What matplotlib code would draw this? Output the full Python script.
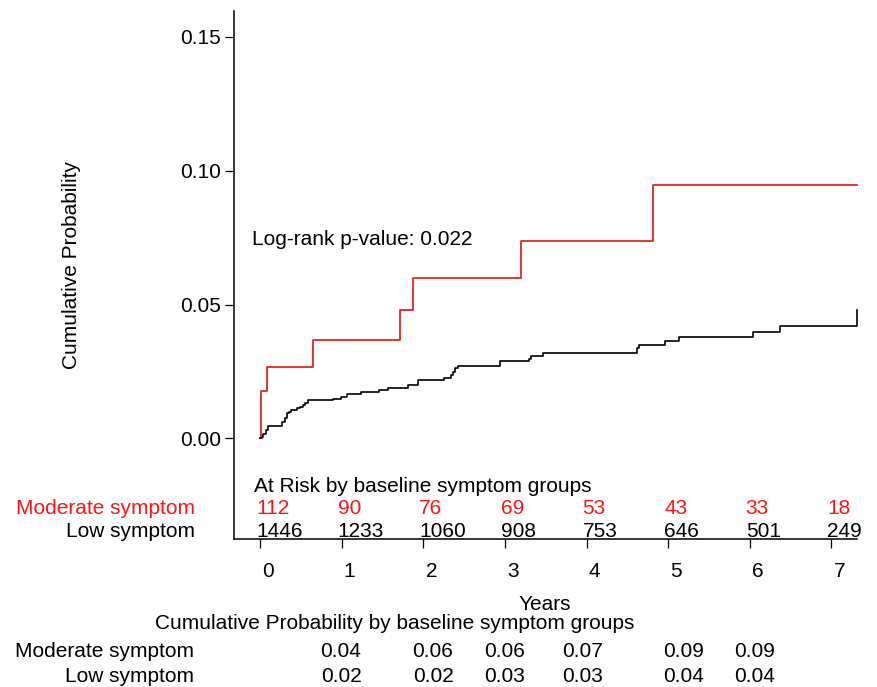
import numpy as np
import matplotlib
matplotlib.use("Agg")
import matplotlib.pyplot as plt
from matplotlib.transforms import ScaledTranslation

plt.rcParams['font.family'] = ['Liberation Sans', 'DejaVu Sans']

# ---------------- data ----------------
years = [0, 1, 2, 3, 4, 5, 6, 7]
year_labels = ["0", "1", "2", "3", "4", "5", "6", "7"]

# Moderate symptom cumulative incidence (step times / values)
mod_t = [0.0, 0.006, 0.012, 0.08, 0.65, 1.72, 1.87, 3.20, 4.82]
mod_v = [0.0, 0.0087, 0.0177, 0.0265, 0.0367, 0.048, 0.060, 0.0737, 0.0947]

# Low symptom cumulative incidence (step times / values)
low_t = [0, 0.02, 0.04, 0.07, 0.10, 0.265, 0.30, 0.33, 0.35, 0.38,
         0.45, 0.49, 0.53, 0.55, 0.585, 0.90, 0.99, 1.07, 1.24, 1.46,
         1.57, 1.81, 1.93, 1.94, 2.25, 2.34, 2.37, 2.39, 2.43, 2.94,
         3.30, 3.32, 3.47, 4.62, 4.64, 4.96, 5.13, 6.04, 6.37, 7.31]
low_v = [0, 0.0006, 0.0015, 0.0031, 0.0046, 0.0062, 0.0075, 0.0093, 0.0099, 0.0106,
         0.0114, 0.0118, 0.0125, 0.0133, 0.0142, 0.0149, 0.0156, 0.0164, 0.0172, 0.0181,
         0.0189, 0.0199, 0.0212, 0.0218, 0.0224, 0.0237, 0.0249, 0.0262, 0.0272, 0.0288,
         0.0298, 0.0308, 0.0320, 0.0336, 0.0348, 0.0364, 0.0379, 0.0398, 0.0420, 0.048]

risk_moderate = [112, 90, 76, 69, 53, 43, 33, 18]
risk_low = [1446, 1233, 1060, 908, 753, 646, 501, 249]

cum_moderate = [0.04, 0.06, 0.06, 0.07, 0.09, 0.09]
cum_low = [0.02, 0.02, 0.03, 0.03, 0.04, 0.04]

yticks = [0.0, 0.05, 0.10, 0.15]
ytick_labels = ["0.00", "0.05", "0.10", "0.15"]

group_names = ["Moderate symptom", "Low symptom"]
pvalue_text = "Log-rank p-value: 0.022"

# ---------------- style / layout ----------------
RED_LINE = "#E32322"
RED_TEXT = "#FF1414"
FS = 15
W, H = 877, 687

fig = plt.figure(figsize=(W / 100, H / 100), dpi=100)
ax_l, ax_r, ax_t, ax_b = 233.5, 856.7, 11, 539
ax = fig.add_axes([ax_l / W, 1 - ax_b / H, (ax_r - ax_l) / W, (ax_b - ax_t) / H])

x_min, x_max = -0.325, 7.31
y_min, y_max = -0.0376, 0.1597
ax.set_xlim(x_min, x_max)
ax.set_ylim(y_min, y_max)

for s in ["top", "right"]:
    ax.spines[s].set_visible(False)
for s in ["left", "bottom"]:
    ax.spines[s].set_linewidth(1.1)

# curves
mt = np.append(mod_t, x_max)
mv = np.append(mod_v, mod_v[-1])
ax.step(mt, mv, where="post", color=RED_LINE, lw=1.3, clip_on=False, zorder=3)
ax.step(low_t, low_v, where="post", color="black", lw=1.2, clip_on=False, zorder=3)

# ticks
ax.set_yticks(yticks)
ax.set_yticklabels(ytick_labels, fontsize=FS)
ax.set_xticks(years)
ax.set_xticklabels(year_labels, fontsize=FS)
ax.tick_params(axis="y", length=6.5, width=0.9, pad=2.5, direction="out")
ax.tick_params(axis="x", length=6.5, width=0.9, pad=10, direction="out")
off = ScaledTranslation(8 / 100, 0, fig.dpi_scale_trans)
for lab in ax.get_xticklabels():
    lab.set_transform(lab.get_transform() + off)

# p-value text
ax.text(-0.10, 0.0722, pvalue_text, fontsize=FS, ha="left", va="baseline")

# at-risk table inside axes
ax.text(-0.074, -0.0201, "At Risk by baseline symptom groups", fontsize=FS,
        ha="left", va="baseline", clip_on=False)
row_mod, row_low = -0.0283, -0.0368
for t, n in zip(years, risk_moderate):
    ax.text(t - 0.05, row_mod, str(n), fontsize=FS, color=RED_TEXT,
            ha="left", va="baseline", clip_on=False)
for t, n in zip(years, risk_low):
    ax.text(t - 0.05, row_low, str(n), fontsize=FS, color="black",
            ha="left", va="baseline", clip_on=False)
ax.text(-0.797, row_mod, group_names[0], fontsize=FS, color=RED_TEXT,
        ha="right", va="baseline", clip_on=False)
ax.text(-0.797, row_low, group_names[1], fontsize=FS, color="black",
        ha="right", va="baseline", clip_on=False)

# axis labels
fig.text(71.7 / W, 1 - 265 / H, "Cumulative Probability", rotation=90,
         fontsize=FS, ha="center", va="center")
fig.text(545 / W, 1 - 610 / H, "Years", fontsize=FS, ha="center", va="baseline")

# cumulative probability table below
fig.text(395 / W, 1 - 629 / H, "Cumulative Probability by baseline symptom groups",
         fontsize=FS, ha="center", va="baseline")
cols_px = [341, 433, 505, 583, 684, 755]
r1, r2 = 656.7, 681.5
fig.text(194 / W, 1 - r1 / H, group_names[0], fontsize=FS, ha="right", va="baseline")
fig.text(194 / W, 1 - r2 / H, group_names[1], fontsize=FS, ha="right", va="baseline")
for x, v in zip(cols_px, cum_moderate):
    fig.text(x / W, 1 - r1 / H, f"{v:.2f}", fontsize=FS, ha="center", va="baseline")
for x, v in zip(cols_px, cum_low):
    fig.text(x / W, 1 - r2 / H, f"{v:.2f}", fontsize=FS, ha="center", va="baseline")

fig.savefig("out.png", dpi=100)
